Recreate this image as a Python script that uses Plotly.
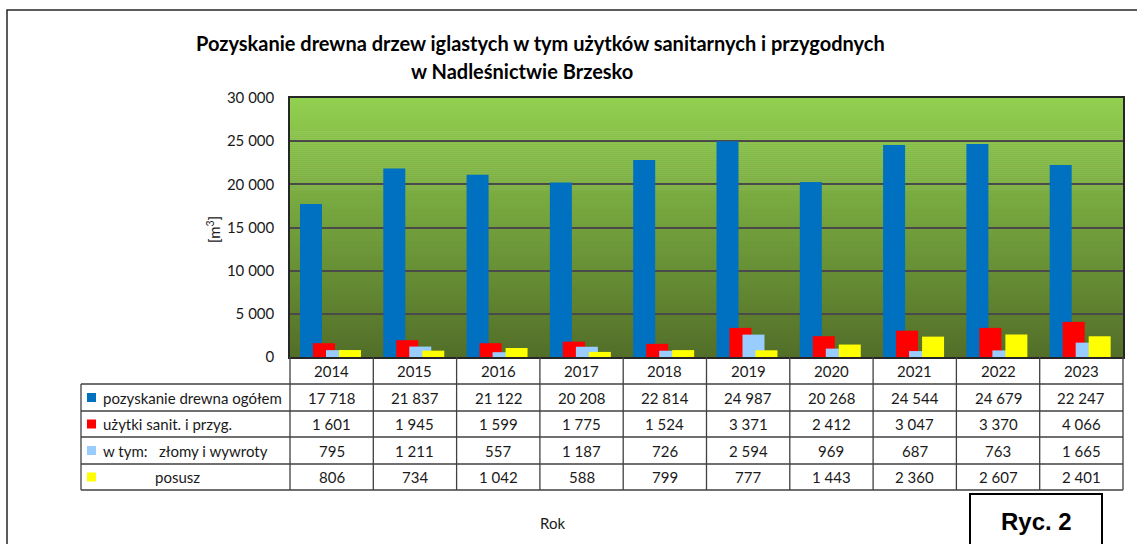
import plotly.graph_objects as go

# ---------------- data ----------------
years = ["2014", "2015", "2016", "2017", "2018", "2019", "2020", "2021", "2022", "2023"]
ogolem = [17718, 21837, 21122, 20208, 22814, 24987, 20268, 24544, 24679, 22247]
sanit = [1601, 1945, 1599, 1775, 1524, 3371, 2412, 3047, 3370, 4066]
zlomy = [795, 1211, 557, 1187, 726, 2594, 969, 687, 763, 1665]
posusz = [806, 734, 1042, 588, 799, 777, 1443, 2360, 2607, 2401]
series_names = ["pozyskanie drewna ogółem", "użytki sanit. i przyg.",
                "w tym:\u00a0\u00a0\u00a0złomy i wywroty", "posusz"]
series_values = [ogolem, sanit, zlomy, posusz]
colors = ["#0070C0", "#FF0000", "#99CCFF", "#FFFF00"]
title1 = "Pozyskanie drewna drzew iglastych w tym użytków sanitarnych i przygodnych"
title2 = "w Nadleśnictwie Brzesko"

# ---------------- layout geometry ----------------
W, H = 1137, 544
L, R, T, B = 290, 14, 98, 187
PW, PH = W - L - R, H - T - B
FONT = "Lato, 'Liberation Sans', Arial, sans-serif"
TXT = "#1a1a1a"


def px(x):
    return (x - L) / PW


def py(y):
    return (H - B - y) / PH


def fmt(v):
    return f"{v:,}".replace(",", "\u00a0")


fig = go.Figure()
bar_w = 0.264
offsets = [-0.38, -0.224, -0.068, 0.088]
xidx = list(range(len(years)))
for name, vals, col, off in zip(series_names, series_values, colors, offsets):
    fig.add_trace(go.Bar(x=xidx, y=vals, name=name, marker=dict(color=col, line=dict(width=0)),
                         width=bar_w, offset=off, showlegend=False, hoverinfo="skip"))

shapes = []
# gradient background of plot area
N = 130
top_c = (146, 208, 80)
bot_c = (82, 110, 40)
for i in range(N):
    t = (i + 0.5) / N
    c = tuple(int(round(bot_c[k] + (top_c[k] - bot_c[k]) * t)) for k in range(3))
    shapes.append(dict(type="rect", xref="paper", yref="paper", x0=0, x1=1, y0=i / N, y1=(i + 1) / N + 0.002,
                       fillcolor=f"rgb{c}", line=dict(width=0), layer="below"))

# outer frame
shapes.append(dict(type="rect", xref="paper", yref="paper", x0=px(7), x1=px(1160), y0=py(10), y1=py(580),
                   line=dict(color="#262626", width=1.5), fillcolor="rgba(0,0,0,0)", layer="below"))

line_c = "#404040"
row_bounds = [357, 384, 411, 437, 464, 490]
for yb in row_bounds[1:]:
    shapes.append(dict(type="line", xref="paper", yref="paper", x0=px(81), x1=1, y0=py(yb), y1=py(yb),
                       line=dict(color=line_c, width=1.3)))
shapes.append(dict(type="line", xref="paper", yref="paper", x0=px(81), x1=px(81), y0=py(384), y1=py(490),
                   line=dict(color=line_c, width=1.3)))
for xe in [0, 1]:
    shapes.append(dict(type="line", xref="paper", yref="paper", x0=xe, x1=xe, y0=py(357), y1=py(490),
                       line=dict(color=line_c, width=1.3)))
for k in range(1, len(years)):
    shapes.append(dict(type="line", xref="x", yref="paper", x0=k - 0.5, x1=k - 0.5, y0=py(357), y1=py(490),
                       line=dict(color=line_c, width=1.3)))

# legend keys
for r, col in enumerate(colors):
    yc = (row_bounds[r + 1] + row_bounds[r + 2]) / 2
    shapes.append(dict(type="rect", xref="paper", yref="paper", x0=px(87), x1=px(96),
                       y0=py(yc + 4.5), y1=py(yc - 4.5), fillcolor=col, line=dict(width=0)))

# Ryc. box
shapes.append(dict(type="rect", xref="paper", yref="paper", x0=px(970), x1=px(1102), y0=py(494), y1=py(580),
                   line=dict(color="#000000", width=2), fillcolor="white"))


def A(text, x, y, xref="paper", xanchor="center", size=15, family=FONT, color=TXT, **kw):
    return dict(text=text, xref=xref, yref="paper", x=x, y=y, xanchor=xanchor, yanchor="middle",
                showarrow=False, font=dict(family=family, size=size, color=color), **kw)


ann = []
ann.append(A(f"<b>{title1}</b>", px(540), py(43), size=20, color="#000"))
ann.append(A(f"<b>{title2}</b>", px(522), py(71), size=20, color="#000"))
ann.append(A("[m<sup>3</sup>]", px(213), py(230), textangle=-90))

hdr_c = (row_bounds[0] + row_bounds[1]) / 2
for i, yr in enumerate(years):
    ann.append(A(yr, i, py(hdr_c), xref="x"))
for r, (name, vals) in enumerate(zip(series_names, series_values)):
    yc = (row_bounds[r + 1] + row_bounds[r + 2]) / 2
    lx = px(153) if r == 3 else px(101)
    ann.append(A(name, lx, py(yc), xanchor="left"))
    for i, v in enumerate(vals):
        ann.append(A(fmt(v), i, py(yc), xref="x"))

ann.append(A("Rok", px(552), py(523)))
ann.append(A("<b>Ryc. 2</b>", px(1036), py(521), size=24, family="'Liberation Sans', Arial, sans-serif",
             color="#000"))

fig.update_layout(
    width=W, height=H,
    margin=dict(l=L, r=R, t=T, b=B),
    paper_bgcolor="white", plot_bgcolor="rgba(0,0,0,0)",
    barmode="overlay",
    separators=", ",
    shapes=shapes, annotations=ann,
    xaxis=dict(range=[-0.5, 9.5], showticklabels=False, showgrid=False, ticks="",
               showline=True, mirror=True, linecolor="#262626", linewidth=1.5, zeroline=False),
    yaxis=dict(range=[0, 30000], dtick=5000, tickformat=",d", showgrid=True, gridcolor="#4a4a4a",
               gridwidth=1.5, showline=True, mirror=True, linecolor="#262626", linewidth=1.5,
               zeroline=False, ticks="", ticklabelstandoff=11,
               tickfont=dict(family=FONT, size=15, color=TXT)),
)

fig.write_html("out.html", config={"displayModeBar": False},
               post_script="document.body.style.margin='0';")
